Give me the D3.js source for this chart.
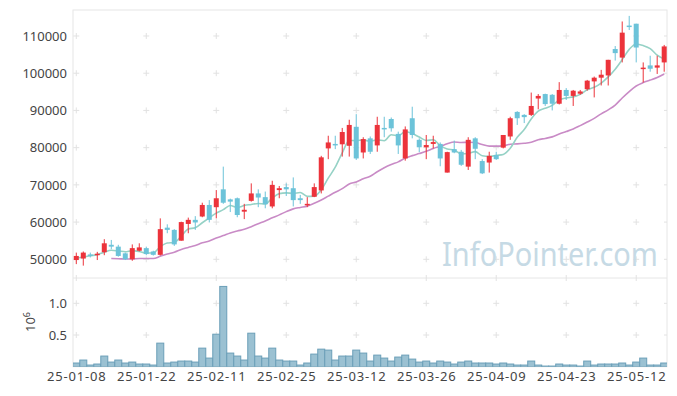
<!DOCTYPE html>
<html>
<head>
<meta charset="utf-8">
<script src="https://cdn.jsdelivr.net/npm/d3@7"></script>
<style>
  body { margin: 0; background: #fff; }
  text { font-family: "Noto Sans", sans-serif; }
</style>
</head>
<body>
<div id="chart"></div>
<script>
// trading days shown (KRX, 2025)
const dates = [
  "25-01-08","25-01-09","25-01-10","25-01-13","25-01-14","25-01-15","25-01-16","25-01-17","25-01-20","25-01-21",
  "25-01-22","25-01-23","25-01-24","25-01-31","25-02-03","25-02-04","25-02-05","25-02-06","25-02-07","25-02-10",
  "25-02-11","25-02-12","25-02-13","25-02-14","25-02-17","25-02-18","25-02-19","25-02-20","25-02-21","25-02-24",
  "25-02-25","25-02-26","25-02-27","25-02-28","25-03-04","25-03-05","25-03-06","25-03-07","25-03-10","25-03-11",
  "25-03-12","25-03-13","25-03-14","25-03-17","25-03-18","25-03-19","25-03-20","25-03-21","25-03-24","25-03-25",
  "25-03-26","25-03-27","25-03-28","25-03-31","25-04-01","25-04-02","25-04-03","25-04-04","25-04-07","25-04-08",
  "25-04-09","25-04-10","25-04-11","25-04-14","25-04-15","25-04-16","25-04-17","25-04-18","25-04-21","25-04-22",
  "25-04-23","25-04-24","25-04-25","25-04-28","25-04-29","25-04-30","25-05-02","25-05-07","25-05-08","25-05-09",
  "25-05-12","25-05-13","25-05-14","25-05-15","25-05-16"
];

const open = [
  49800,50200,51300,51300,51900,53900,53400,51600,50000,52300,
  53000,52100,51200,58500,57900,55000,59500,60600,61500,64600,
  64000,68800,66100,66400,62800,65700,67700,66700,64200,68600,
  69400,69100,66400,64500,66800,68500,79800,81000,80900,80500,
  85600,78700,82500,80600,85300,87700,83700,77100,87900,82100,
  80100,81000,81000,73300,79600,78900,74900,82500,76400,76000,
  78000,80000,83000,89600,88800,88800,93200,94400,94200,91800,
  95500,93900,94500,95700,97800,98800,99400,106500,104200,112800,
  113300,101200,102100,101500,102900
];
const high = [
  51800,52100,51800,52000,55400,55200,53900,51800,54000,54300,
  53400,52300,61000,59400,58100,60100,61200,61600,65200,65900,
  68600,74900,66300,66600,64900,70400,68800,68200,71100,69700,
  70400,72000,67300,66700,70400,77800,83200,83200,85300,87500,
  89000,82800,83000,88300,88300,88100,84300,85700,91000,82500,
  83400,83200,81400,78900,81900,79400,82800,82800,76900,78900,
  78900,83400,88300,89800,89000,94800,94400,94500,94400,97600,
  96000,95500,95500,98200,99100,100900,103600,107300,113900,115400,
  113300,102900,104700,104700,107600
];
const low = [
  48700,48300,50500,49800,51100,52700,50700,49800,49600,52100,
  51100,51000,51000,57000,53600,55000,57000,57900,61300,59900,
  61000,64900,62700,61300,60800,65500,64000,63700,63700,66400,
  67000,64200,64900,64000,66700,67700,76900,79600,77600,77600,
  76700,77100,78300,78900,82800,84300,78300,76500,82500,78800,
  76900,79800,75000,73300,78500,75100,74000,76900,72900,73300,
  76700,79800,82100,86100,86600,88500,90300,91200,90000,91600,
  92800,91200,94200,95300,93500,96700,96700,103400,102900,111600,
  102900,97500,100400,99800,100400
];
const close = [
  50900,51800,51100,51500,54300,53400,50900,50000,53000,53200,
  51400,51200,58100,57900,54000,60000,60600,59900,64600,60600,
  66400,65200,65500,61900,63300,67700,66600,64800,70000,69100,
  68800,65900,65900,64900,69400,77400,81400,80600,84200,86100,
  77100,82300,78900,86100,84900,85200,80600,84900,83400,80100,
  80700,81500,77100,78800,78700,75400,82100,79700,73100,77800,
  76900,83400,87900,87900,88200,91200,93900,91700,91800,95500,
  93900,95300,95100,98000,98800,99600,103600,105400,110900,112500,
  106900,101500,101200,102100,107200
];
const volume = [
  58000,105000,26000,42000,168000,73000,105000,58000,73000,42000,
  42000,26000,372000,58000,73000,89000,89000,73000,293000,136000,
  513000,1267000,215000,168000,105000,529000,168000,136000,293000,105000,
  89000,89000,26000,58000,199000,277000,262000,105000,168000,168000,
  262000,215000,89000,183000,136000,89000,152000,183000,120000,73000,
  89000,58000,89000,73000,42000,73000,89000,58000,58000,58000,
  42000,58000,42000,26000,26000,89000,26000,10000,10000,42000,
  26000,26000,10000,89000,26000,42000,42000,42000,58000,26000,
  73000,136000,26000,26000,58000
];
// closes before the shown window (only feed the moving averages)
const prevCloses = [52000,51500,52500,51000,51500,51100,46500,45000,44500,45000,50000,49500,50000,51000];

const priceTicks = [50000, 60000, 70000, 80000, 90000, 100000, 110000];
const volTicks = [500000, 1000000];
const dateTicks = d3.range(0, dates.length, 10);

const W = 677, H = 396;
const plotL = 73, plotR = 667, plotT = 10, split = 278, plotB = 366.7;

const UP = "#ec333b", DOWN = "#6cc3d9";

const svg = d3.select("#chart").append("svg").attr("width", W).attr("height", H);

const x = d3.scaleLinear().domain([-0.47, 84.4]).range([plotL, plotR]);
const y = d3.scaleLinear().domain([44975, 116985]).range([split, plotT]);
const yv = d3.scaleLinear().domain([0, 1400000]).range([plotB, split]);

// moving averages on the full close history
const allCloses = prevCloses.concat(close);
function movingAvg(n) {
  return close.map(function (_c, i) {
    const end = i + prevCloses.length;
    if (end - n + 1 < 0) return null;
    return d3.mean(allCloses.slice(end - n + 1, end + 1));
  });
}
const ma5 = movingAvg(5);
const ma20 = movingAvg(20);

svg.append("clipPath").attr("id", "plot-clip")
  .append("rect").attr("x", plotL).attr("y", plotT).attr("width", plotR - plotL).attr("height", plotB - plotT);

// frame
svg.append("rect")
  .attr("x", plotL).attr("y", plotT).attr("width", plotR - plotL).attr("height", plotB - plotT)
  .attr("fill", "none").attr("stroke", "#e6e6e6");
svg.append("line")
  .attr("x1", plotL).attr("x2", plotR).attr("y1", split).attr("y2", split)
  .attr("stroke", "#e6e6e6");

// grid crosses
const crossRows = priceTicks.map(y).concat(volTicks.map(yv));
const grid = svg.append("g").attr("stroke", "#e2e2e2").attr("stroke-width", 1);
dateTicks.forEach(function (i) {
  crossRows.forEach(function (cy) {
    grid.append("path").attr("d", `M${x(i) - 3},${cy}h6M${x(i)},${cy - 3}v6`);
  });
  grid.append("path").attr("d", `M${x(i)},${split - 3}v6`);
});
crossRows.forEach(function (cy) {
  grid.append("path").attr("d", `M${plotR - 3},${cy}h3`);
});

// watermark, squeezed horizontally to the reference width
const mark = svg.append("text")
  .attr("font-size", 33)
  .attr("fill", "#c6dae5")
  .text("InfoPointer.com");
const markScale = 216 / mark.node().getComputedTextLength();
mark.attr("transform", `translate(442,266) scale(${markScale},1)`);

const plot = svg.append("g").attr("clip-path", "url(#plot-clip)");

// moving average lines
const maLine = d3.line()
  .defined(function (d) { return d != null; })
  .x(function (_d, i) { return x(i); })
  .y(function (d) { return y(d); })
  .curve(d3.curveMonotoneX);
plot.append("path").datum(ma20).attr("d", maLine)
  .attr("fill", "none").attr("stroke", "#c98bc6").attr("stroke-width", 1.6);
plot.append("path").datum(ma5).attr("d", maLine)
  .attr("fill", "none").attr("stroke", "#96d2c6").attr("stroke-width", 1.6);

// candles
const idx = d3.range(dates.length);
const candle = plot.selectAll("g.candle").data(idx).enter().append("g")
  .attr("class", "candle")
  .attr("fill", function (i) { return close[i] >= open[i] ? UP : DOWN; })
  .attr("stroke", function (i) { return close[i] >= open[i] ? UP : DOWN; });
candle.append("line")
  .attr("x1", function (i) { return x(i); }).attr("x2", function (i) { return x(i); })
  .attr("y1", function (i) { return y(high[i]); }).attr("y2", function (i) { return y(low[i]); })
  .attr("stroke-width", 1);
candle.append("rect")
  .attr("x", function (i) { return x(i) - 2.5; })
  .attr("width", 5)
  .attr("y", function (i) { return y(Math.max(open[i], close[i])); })
  .attr("height", function (i) { return Math.max(1.5, Math.abs(y(open[i]) - y(close[i]))); })
  .attr("stroke", "none");

// volume bars
plot.selectAll("rect.vol").data(idx).enter().append("rect")
  .attr("class", "vol")
  .attr("x", function (i) { return x(i) - 3.5; })
  .attr("width", 7)
  .attr("y", function (i) { return yv(volume[i]); })
  .attr("height", function (i) { return plotB - yv(volume[i]); })
  .attr("fill", "#9bc1d2")
  .attr("stroke", "#6b9fb8")
  .attr("stroke-width", 1);

// axes
function styleAxis(g) {
  g.select(".domain").remove();
  g.selectAll("text").attr("fill", "#444").attr("font-size", 13)
    .style("font-family", "'Noto Sans', sans-serif");
}
svg.append("g").attr("transform", `translate(${plotL},0)`)
  .call(d3.axisLeft(y).tickValues(priceTicks).tickSize(0).tickPadding(6).tickFormat(d3.format("d")))
  .call(styleAxis);
svg.append("g").attr("transform", `translate(${plotL},0)`)
  .call(d3.axisLeft(yv).tickValues(volTicks).tickSize(0).tickPadding(6)
    .tickFormat(function (d) { return (d / 1e6).toFixed(1); }))
  .call(styleAxis);
svg.append("g").attr("transform", `translate(0,${plotB})`)
  .call(d3.axisBottom(x).tickValues(dateTicks).tickSize(0).tickPadding(5)
    .tickFormat(function (i) { return dates[i]; }))
  .call(styleAxis)
  .selectAll("text").attr("letter-spacing", 0.8);

// volume unit
const unit = svg.append("text")
  .attr("transform", "translate(35,322) rotate(-90)")
  .attr("text-anchor", "middle")
  .attr("fill", "#444").attr("font-size", 13);
unit.append("tspan").text("10");
unit.append("tspan").attr("dy", -5).attr("font-size", 9).text("6");
</script>
</body>
</html>
